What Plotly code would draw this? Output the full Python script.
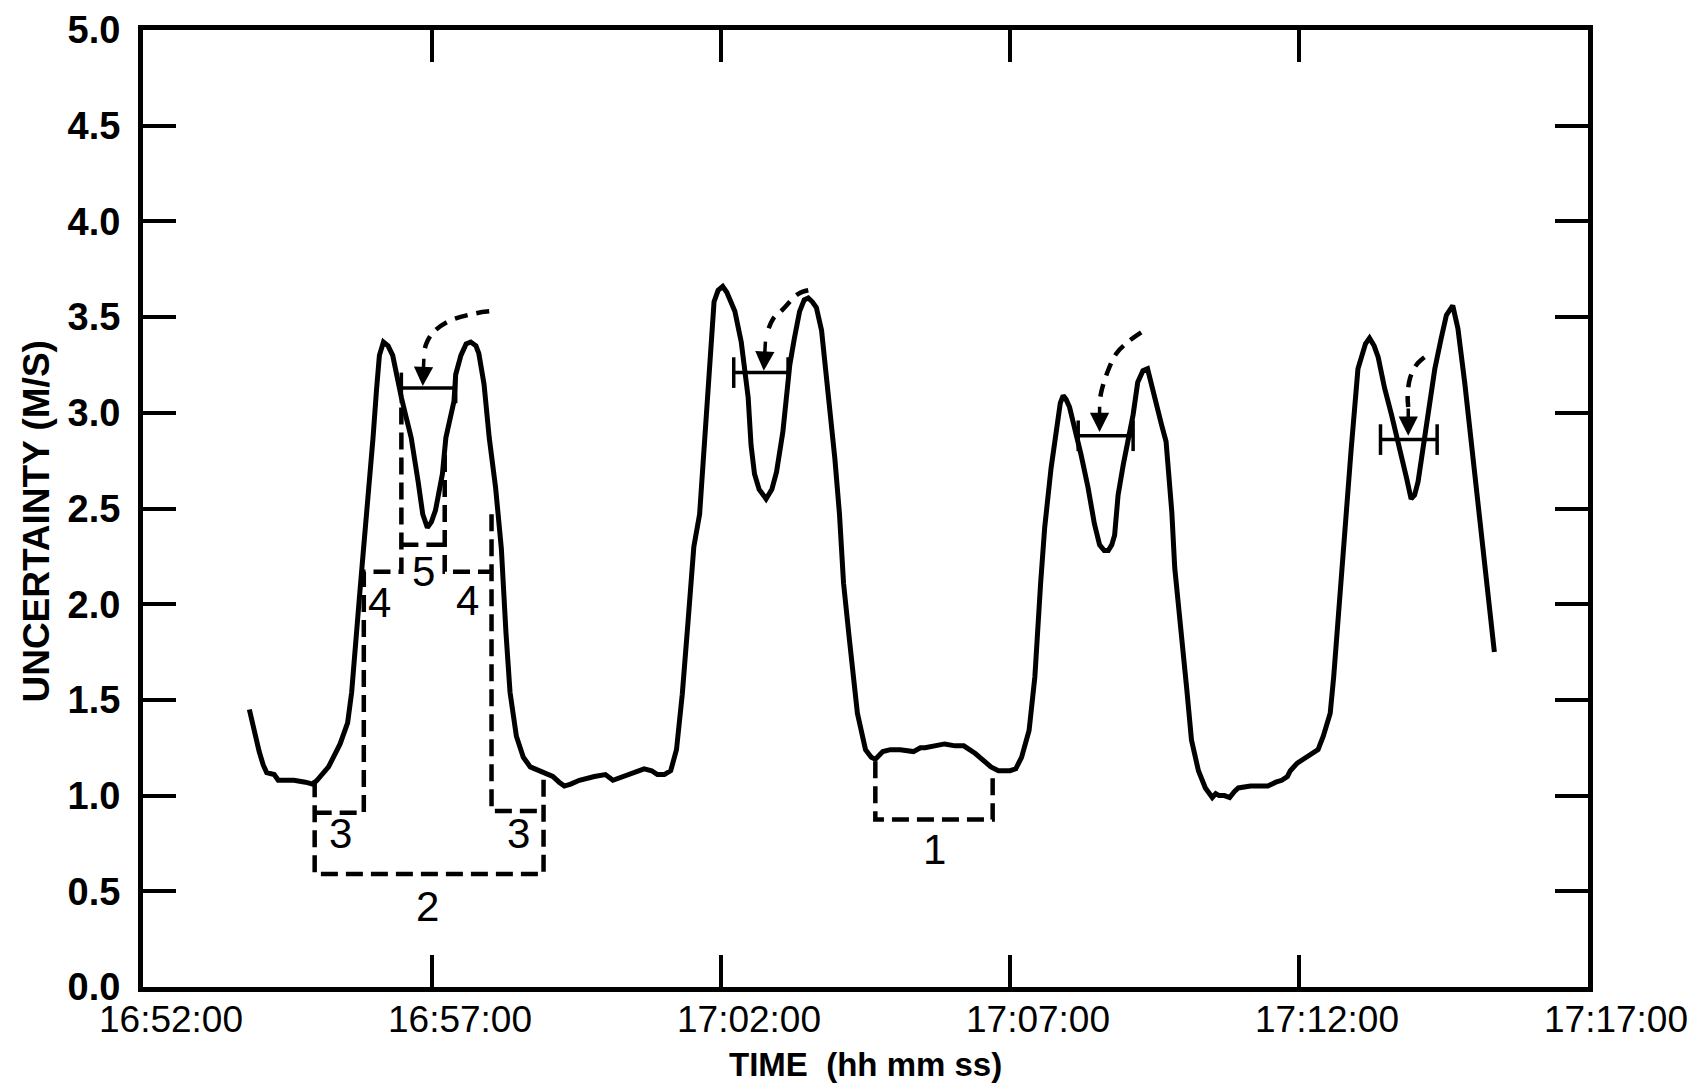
import plotly.graph_objects as go

# ---- data: time in minutes after 16:52:00, uncertainty in m/s ----
elapsed_min = [
    1.84, 1.93, 2.01, 2.08, 2.14, 2.27, 2.34, 2.41, 2.61, 2.81, 2.94, 3.01, 3.21, 3.41, 3.54, 3.61,
    3.68, 3.74, 3.81, 3.90, 3.98, 4.04, 4.09, 4.16, 4.24, 4.32, 4.41, 4.47, 4.55, 4.64, 4.76, 4.84,
    4.92, 4.99, 5.06, 5.18, 5.24, 5.29, 5.38, 5.41, 5.50, 5.59, 5.67, 5.76, 5.81, 5.90, 5.99, 6.10,
    6.20, 6.28, 6.35, 6.46, 6.58, 6.70, 6.88, 7.09, 7.20, 7.29, 7.40, 7.55, 7.81, 8.00, 8.13, 8.40,
    8.67, 8.80, 8.90, 9.02, 9.13, 9.23, 9.33, 9.43, 9.53, 9.63, 9.70, 9.78, 9.84, 9.88, 9.95, 10.03,
    10.10, 10.24, 10.35, 10.41, 10.47, 10.52, 10.58, 10.66, 10.78, 10.88, 10.96, 11.07, 11.13, 11.19,
    11.27, 11.36, 11.44, 11.51, 11.58, 11.65, 11.74, 11.85, 11.97, 12.05, 12.12, 12.22, 12.36, 12.50,
    12.60, 12.67, 12.80, 12.93, 13.10, 13.33, 13.45, 13.53, 13.70, 13.87, 14.05, 14.20, 14.40, 14.55,
    14.67, 14.80, 15.00, 15.10, 15.20, 15.33, 15.43, 15.53, 15.60, 15.71, 15.80, 15.87, 15.92, 15.97,
    16.03, 16.12, 16.23, 16.35, 16.46, 16.55, 16.63, 16.70, 16.76, 16.81, 16.87, 16.96, 17.04, 17.13,
    17.21, 17.30, 17.38, 17.47, 17.62, 17.70, 17.80, 17.85, 17.96, 18.06, 18.14, 18.26, 18.38, 18.50,
    18.56, 18.62, 18.71, 18.80, 18.88, 18.95, 19.16, 19.46, 19.60, 19.70, 19.80, 19.85, 19.97, 20.12,
    20.33, 20.42, 20.54, 20.60, 20.69, 20.78, 20.90, 21.02, 21.08, 21.15, 21.22, 21.30, 21.37, 21.48,
    21.60, 21.74, 21.86, 21.94, 22.00, 22.06, 22.15, 22.23, 22.35, 22.46, 22.55, 22.66, 22.75, 22.87,
    23.01, 23.15, 23.38,
]
uncertainty = [
    1.45, 1.32, 1.23, 1.16, 1.12, 1.11, 1.08, 1.08, 1.08, 1.07, 1.06, 1.08, 1.15, 1.27, 1.38, 1.54,
    1.77, 2.02, 2.27, 2.57, 2.87, 3.12, 3.30, 3.37, 3.35, 3.30, 3.15, 3.08, 2.98, 2.87, 2.64, 2.47,
    2.40, 2.43, 2.49, 2.68, 2.87, 2.94, 3.06, 3.20, 3.30, 3.36, 3.37, 3.35, 3.31, 3.15, 2.87, 2.61,
    2.29, 1.85, 1.54, 1.31, 1.20, 1.15, 1.13, 1.10, 1.07, 1.05, 1.06, 1.08, 1.10, 1.11, 1.08, 1.11,
    1.14, 1.13, 1.11, 1.11, 1.13, 1.24, 1.53, 1.91, 2.30, 2.47, 2.80, 3.11, 3.45, 3.58, 3.64, 3.66,
    3.63, 3.53, 3.37, 3.23, 3.08, 2.83, 2.68, 2.60, 2.55, 2.60, 2.69, 2.90, 3.06, 3.25,
    3.39, 3.53, 3.59, 3.60, 3.58, 3.55, 3.43, 3.13, 2.76, 2.47, 2.11, 1.82, 1.43, 1.24,
    1.20, 1.19, 1.23, 1.24, 1.24, 1.23, 1.25, 1.25, 1.26, 1.27, 1.26, 1.26, 1.22, 1.18,
    1.15, 1.13, 1.13, 1.14, 1.20, 1.34, 1.62, 2.11, 2.40, 2.71, 2.92, 3.05, 3.09, 3.07,
    3.03, 2.92, 2.78, 2.61, 2.42, 2.31, 2.28, 2.28, 2.31, 2.36, 2.57, 2.73, 2.85, 2.99,
    3.16, 3.22, 3.23, 3.13, 2.94, 2.85, 2.48, 2.19, 1.88, 1.55, 1.29, 1.13, 1.04, 0.99,
    1.01, 1.00, 1.00, 0.99, 1.02, 1.04, 1.05, 1.05, 1.07, 1.08, 1.10, 1.13, 1.17, 1.20,
    1.24, 1.31, 1.43, 1.62, 2.00, 2.38, 2.80, 3.23, 3.30, 3.36, 3.39, 3.35, 3.29, 3.13,
    2.99, 2.82, 2.66, 2.55, 2.57, 2.64, 2.82, 3.01, 3.23, 3.39, 3.51, 3.56, 3.44, 3.15,
    2.78, 2.40, 1.75,
]

tick_minutes = [0, 5, 10, 15, 20, 25]
tick_labels = ["16:52:00", "16:57:00", "17:02:00", "17:07:00", "17:12:00", "17:17:00"]
y_tick_values = [0.0, 0.5, 1.0, 1.5, 2.0, 2.5, 3.0, 3.5, 4.0, 4.5, 5.0]

# dashed interval brackets (minutes, m/s)
bracket_x = [
    [2.97, 2.97, 6.93, 6.93],            # 2
    [2.97, 3.82, 3.82, 4.47, 4.47],      # 3 / 4 left
    [4.47, 5.22],                        # 5 floor
    [5.22, 5.22, 6.03],                  # 4 right top
    [6.03, 6.03, 6.93],                  # 3 right
    [12.67, 12.67, 14.70, 14.70],        # 1
]
bracket_y = [
    [1.08, 0.59, 0.59, 1.11],
    [0.91, 0.91, 2.17, 2.17, 3.04],
    [2.31, 2.31],
    [2.78, 2.17, 2.17],
    [2.47, 0.92, 0.92],
    [1.18, 0.875, 0.875, 1.12],
]
bracket_labels = ["1", "2", "3", "3", "4", "4", "5"]
bracket_label_x = [13.70, 4.93, 3.42, 6.50, 4.09, 5.62, 4.86]
bracket_label_y = [0.72, 0.42, 0.80, 0.80, 2.01, 2.02, 2.17]

# horizontal bars inside the double peaks
bar_level = [3.13, 3.21, 2.88, 2.86]
bar_start = [4.47, 10.22, 16.18, 21.41]
bar_end = [5.41, 11.16, 17.13, 22.39]
cap_half = 0.08

# dashed arcs ending in arrows
arc_x = [
    [5.99, 5.76, 5.30, 5.02, 4.90, 4.86],
    [11.51, 11.33, 11.07, 10.90, 10.78],
    [17.27, 17.04, 16.84, 16.67, 16.58, 16.55],
    [22.17, 22.03, 21.92, 21.88, 21.89],
]
arc_y = [
    [3.53, 3.52, 3.48, 3.42, 3.36, 3.31],
    [3.64, 3.62, 3.54, 3.49, 3.40],
    [3.42, 3.37, 3.31, 3.20, 3.11, 3.05],
    [3.29, 3.25, 3.18, 3.09, 3.03],
]
arrow_tail_x = [4.86, 10.77, 16.55, 21.89]
arrow_tail_y = [3.29, 3.38, 3.04, 3.03]
arrow_tip_x = [4.84, 10.74, 16.55, 21.89]
arrow_tip_y = [3.14, 3.22, 2.90, 2.88]

FONT = "Liberation Sans, Arial, sans-serif"

fig = go.Figure()

fig.add_trace(go.Scatter(
    x=elapsed_min, y=uncertainty, mode="lines",
    line=dict(color="black", width=5), showlegend=False, hoverinfo="skip"))

for bx, by in zip(bracket_x, bracket_y):
    fig.add_trace(go.Scatter(
        x=bx, y=by, mode="lines",
        line=dict(color="black", width=4.5, dash="17px,8px"),
        showlegend=False, hoverinfo="skip"))

for lvl, x0, x1 in zip(bar_level, bar_start, bar_end):
    fig.add_trace(go.Scatter(
        x=[x0, x1, None, x0, x0, None, x1, x1],
        y=[lvl, lvl, None, lvl - cap_half, lvl + cap_half, None, lvl - cap_half, lvl + cap_half],
        mode="lines", line=dict(color="black", width=3.5),
        showlegend=False, hoverinfo="skip"))

for ax_, ay_ in zip(arc_x, arc_y):
    fig.add_trace(go.Scatter(
        x=ax_, y=ay_, mode="lines", line_shape="spline",
        line=dict(color="black", width=4.5, dash="13px,9px"),
        showlegend=False, hoverinfo="skip"))

for tx, ty, hx, hy in zip(arrow_tail_x, arrow_tail_y, arrow_tip_x, arrow_tip_y):
    fig.add_annotation(
        x=hx, y=hy, ax=tx, ay=ty, xref="x", yref="y", axref="x", ayref="y",
        text="", showarrow=True, arrowhead=2, arrowsize=1.1, arrowwidth=3.5,
        arrowcolor="black", standoff=0)

for lab, lx, ly in zip(bracket_labels, bracket_label_x, bracket_label_y):
    fig.add_annotation(
        x=lx, y=ly, xref="x", yref="y", text=lab, showarrow=False,
        font=dict(family=FONT, size=42, color="black"))

# axis titles
fig.add_annotation(
    x=0.5, y=-0.081, xref="paper", yref="paper", yanchor="middle",
    text="TIME  (hh mm ss)", showarrow=False,
    font=dict(family=FONT, size=33, color="black", weight="bold"))
fig.add_annotation(
    x=-0.0736, y=0.486, xref="paper", yref="paper", textangle=-90,
    xanchor="center", yanchor="middle",
    text="UNCERTAINTY (M/S)", showarrow=False,
    font=dict(family=FONT, size=37, color="black", weight="bold"))

fig.update_layout(
    width=1696, height=1084,
    margin=dict(l=135, r=116, t=22, b=105),
    paper_bgcolor="white", plot_bgcolor="white",
    showlegend=False,
)
fig.update_xaxes(
    range=[0, 25], tickmode="array", tickvals=tick_minutes, ticktext=tick_labels,
    ticks="inside", ticklen=32, tickwidth=3.5, tickcolor="black",
    showline=True, linewidth=5, linecolor="black", mirror="ticks",
    showgrid=False, zeroline=False, automargin=False,
    tickfont=dict(family=FONT, size=37, color="black"),
    ticklabelshift=28, ticklabelstandoff=-4,
)
fig.update_yaxes(
    range=[0, 5], tickmode="array", tickvals=y_tick_values,
    ticktext=[f"{v:.1f}" for v in y_tick_values],
    ticks="inside", ticklen=33, tickwidth=4, tickcolor="black",
    showline=True, linewidth=5, linecolor="black", mirror="ticks",
    showgrid=False, zeroline=False, automargin=False,
    tickfont=dict(family=FONT, size=38, color="black", weight="bold"),
    ticklabelstandoff=10,
)

fig.write_html("out.html")
